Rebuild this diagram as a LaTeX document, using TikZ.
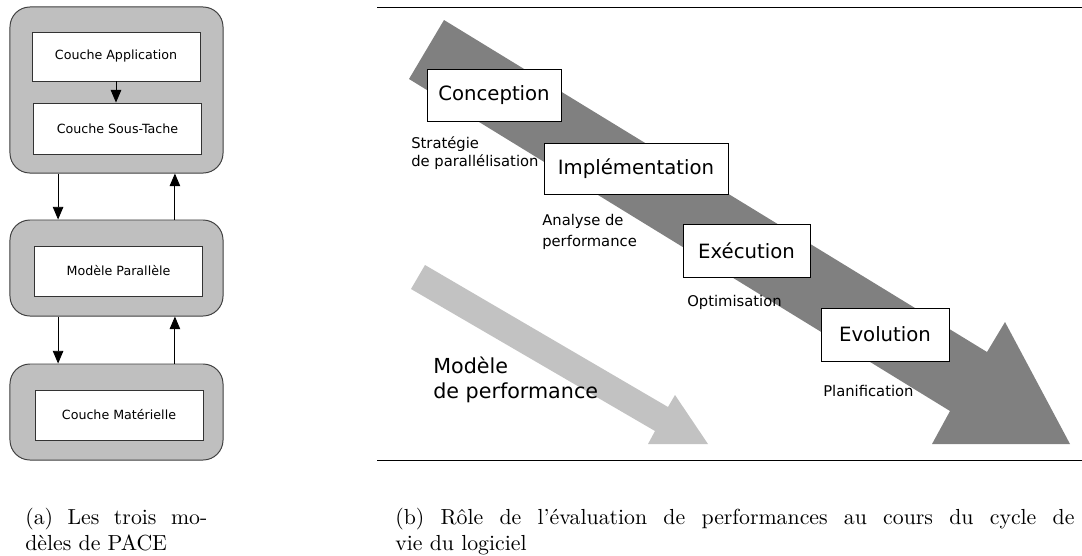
\documentclass[tikz,border=0pt]{standalone}
\usepackage{fontspec}
\usepackage{tikz}
\usetikzlibrary{arrows.meta, positioning}
\usepackage{xcolor}
\newfontfamily\schema{DejaVu Sans}
\newfontfamily\legfont{lmroman10-regular.otf}[Ligatures=TeX]
\definecolor{grisbloc}{gray}{0.75}
\definecolor{grisfonce}{gray}{0.5}
\definecolor{grisclair}{gray}{0.76}

\begin{document}
\begin{tikzpicture}[x=0.025cm, y=-0.025cm,
  bloc/.style={draw=black!75, line width=0.7pt, fill=grisbloc, rounded corners=0.5cm, minimum width=5.325cm},
  couche/.style={draw=black!80, line width=0.6pt, fill=white, font=\schema\fontsize{9}{11}\selectfont, minimum width=4.2cm, minimum height=1.25cm},
  etape/.style={draw, line width=0.6pt, fill=white, font=\schema\fontsize{14}{17}\selectfont, minimum height=1.3cm},
  remarque/.style={font=\schema\fontsize{10.5}{13}\selectfont, inner sep=0pt, align=left},
  legende/.style={font=\legfont\fontsize{15.5}{18.6}\selectfont, inner sep=0pt, align=justify},
  fleche/.style={-{Triangle[length=9pt, width=7.5pt]}, line width=0.6pt}]
\useasboundingbox (0,0) rectangle (1082,555);

\node[bloc, minimum height=4.15cm] (blocApp) at (116.5,90) {};
\node[bloc, minimum height=2.4cm] (blocPar) at (116.5,268) {};
\node[bloc, minimum height=2.4cm] (blocMat) at (116.5,412) {};
\node[couche, minimum height=1.225cm] (app) at (116,56.5) {Couche Application};
\node[couche, minimum height=1.275cm] (sousTache) at (117.5,128.5) {Couche Sous-Tache};
\node[couche] (parallele) at (118.5,271) {Modèle Parallèle};
\node[couche] (materielle) at (119,415) {Couche Matérielle};

\draw[fleche] (app.south) -- (app.south |- sousTache.north);
\draw[fleche] ([xshift=-1.46cm]blocApp.south) -- ([xshift=-1.46cm]blocPar.north);
\draw[fleche] ([xshift=1.46cm]blocPar.north) -- ([xshift=1.46cm]blocApp.south);
\draw[fleche] ([xshift=-1.46cm]blocPar.south) -- ([xshift=-1.46cm]blocMat.north);
\draw[fleche] ([xshift=1.46cm]blocMat.north) -- ([xshift=1.46cm]blocPar.south);

\draw[line width=0.7pt] (377,7) -- (1082,7);
\draw[line width=0.7pt] (377,460) -- (1082,460);
\fill[grisfonce] (444,20) -- (987,352) -- (1005,322) -- (1070,444) -- (932,444) -- (950,411) -- (409,79) -- cycle;
\fill[grisclair] (425,265) -- (668,407) -- (675,395) -- (708,444) -- (648,444) -- (655,431) -- (411,289) -- cycle;

\node[etape, minimum width=3.35cm] (conception) at (494,95) {Conception};
\node[etape, minimum width=4.6cm, minimum height=1.275cm] (implementation) at (636,168.5) {Implémentation};
\node[etape, minimum width=3.175cm, minimum height=1.325cm] (execution) at (746.5,250.5) {Exécution};
\node[etape, minimum width=3.2cm, minimum height=1.325cm] (evolution) at (885,334.5) {Evolution};

\node[remarque, anchor=west] (strategie) at (411,153) {Stratégie\\de parallélisation};
\node[remarque, anchor=west] (analyse) at (542,232) {Analyse de\\[2pt]performance};
\node[remarque, anchor=base west] (optimisation) at (687,306) {Optimisation};
\node[remarque, anchor=base west] (planification) at (823,396) {Planification};
\node[remarque, anchor=west, font=\schema\fontsize{14.7}{17.8}\selectfont] (modele) at (433,380) {Modèle\\de performance};

\node[legende, text width=129.5pt, anchor=base west] (legendeA) at (25,524) {(a) Les trois mo-\linebreak dèles de PACE};
\node[legende, text width=483pt, anchor=base west] (legendeB) at (395,524) {(b) Rôle de l’évaluation de performances au cours du cycle de\linebreak vie du logiciel};
\end{tikzpicture}
\end{document}
